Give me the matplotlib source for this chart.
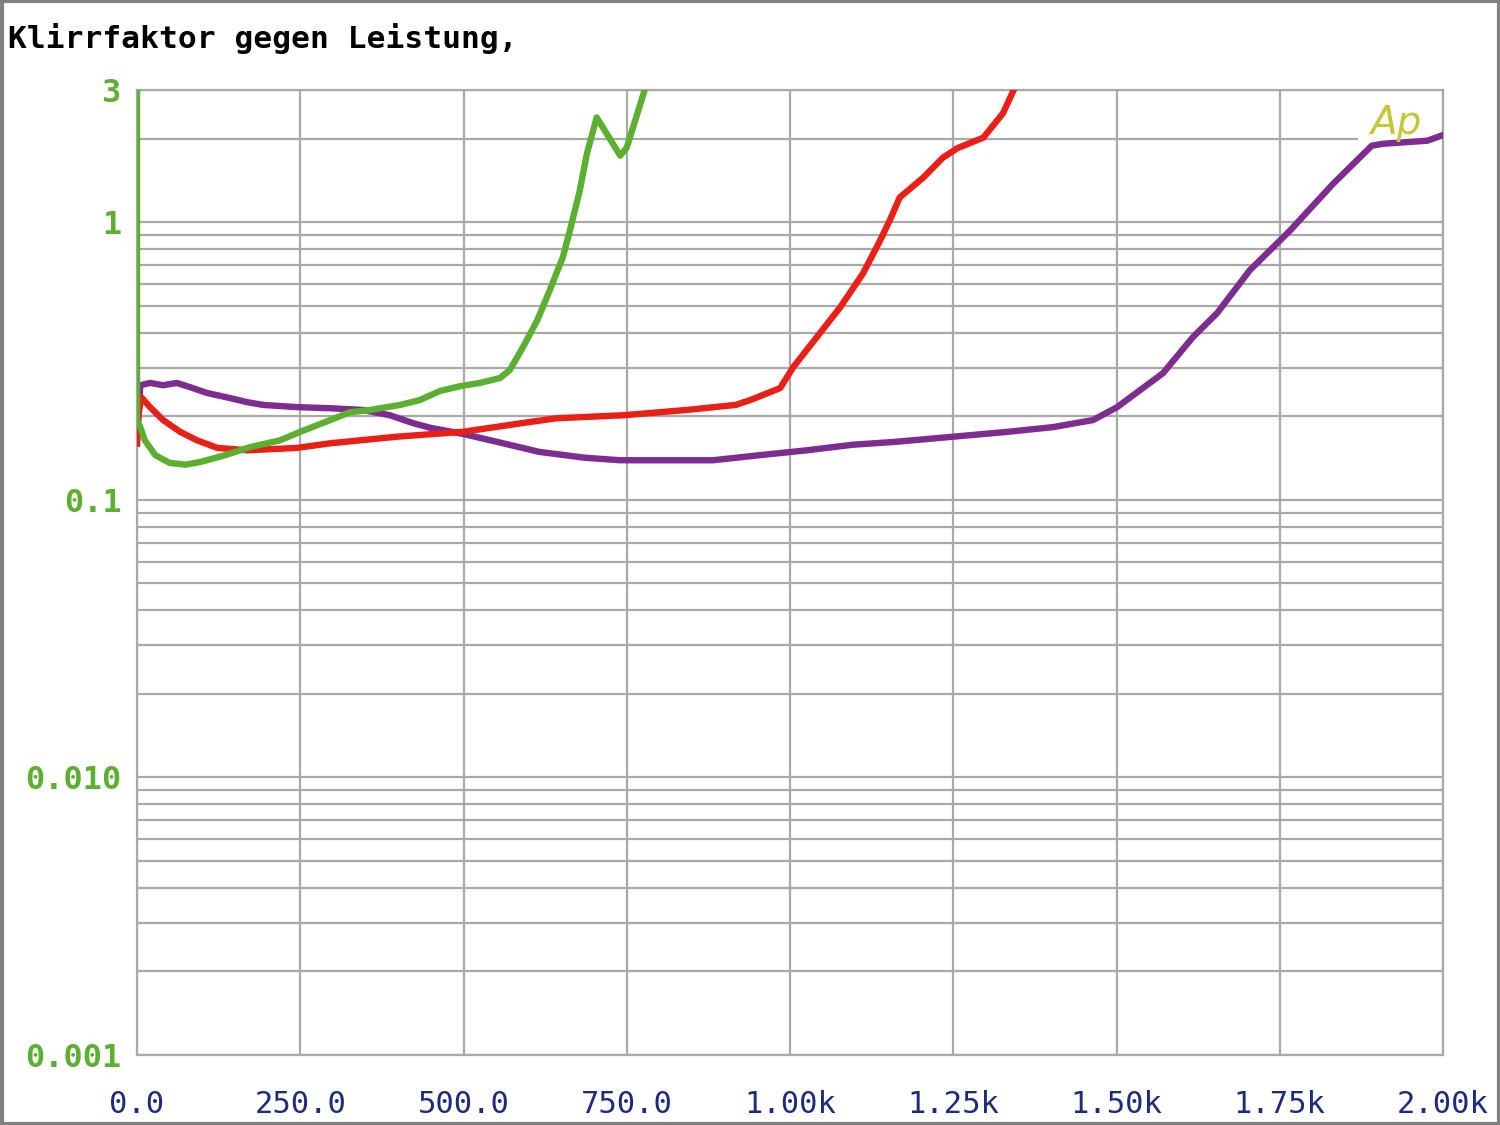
import numpy as np
import matplotlib
matplotlib.use("Agg")
import matplotlib.pyplot as plt
from matplotlib.patches import Rectangle

# power (W) vs THD (%)
x_green = [0, 0, 5, 12, 28, 50, 74, 97, 135, 173, 219, 250, 296, 326, 357, 403, 433,
           464, 495, 525, 556, 571, 591, 613, 632, 652, 663, 678, 689, 704, 740, 750, 778]
y_green = [3.03, 0.194, 0.183, 0.164, 0.145, 0.136, 0.134, 0.137, 0.145, 0.155, 0.164,
           0.176, 0.194, 0.207, 0.211, 0.220, 0.229, 0.247, 0.257, 0.264, 0.275, 0.294,
           0.355, 0.444, 0.569, 0.748, 0.936, 1.30, 1.77, 2.39, 1.74, 1.86, 3.03]

x_red = [0, 0, 6, 20, 40, 66, 92, 123, 169, 245, 296, 398, 499, 602, 643, 746, 842,
         917, 939, 985, 1005, 1041, 1077, 1112, 1138, 1153, 1168, 1204, 1234, 1256,
         1296, 1326, 1342]
y_red = [0.160, 0.182, 0.235, 0.216, 0.194, 0.176, 0.164, 0.154, 0.151, 0.154, 0.160,
         0.169, 0.176, 0.191, 0.197, 0.202, 0.211, 0.220, 0.229, 0.253, 0.301, 0.386,
         0.495, 0.656, 0.861, 1.02, 1.23, 1.45, 1.71, 1.85, 2.02, 2.47, 2.98]

x_purple = [0, 5, 20, 40, 61, 81, 107, 142, 169, 193, 245, 296, 346, 387, 423, 449,
            499, 551, 616, 685, 740, 882, 954, 1026, 1095, 1162, 1250, 1334, 1403, 1464,
            1501, 1571, 1617, 1654, 1704, 1766, 1832, 1891, 1908, 1976, 1999]
y_purple = [0.160, 0.259, 0.264, 0.259, 0.264, 0.255, 0.243, 0.233, 0.225, 0.220,
            0.216, 0.214, 0.211, 0.202, 0.189, 0.182, 0.173, 0.162, 0.149, 0.142,
            0.139, 0.139, 0.145, 0.151, 0.158, 0.162, 0.169, 0.176, 0.183, 0.194,
            0.216, 0.286, 0.386, 0.471, 0.672, 0.936, 1.38, 1.89, 1.92, 1.97, 2.06]

x_ticks = [0, 250, 500, 750, 1000, 1250, 1500, 1750, 2000]
x_labels = ["0.0", "250.0", "500.0", "750.0", "1.00k", "1.25k", "1.50k", "1.75k", "2.00k"]
y_ticks = [0.001, 0.01, 0.1, 1, 3]
y_labels = ["0.001", "0.010", "0.1", "1", "3"]

GRID = "#a9a9a9"
GREEN = "#5cb030"
RED = "#ea1f16"
PURPLE = "#7d2c8f"
NAVY = "#1c2a80"

fig = plt.figure(figsize=(15, 11.25), dpi=100)
ax = fig.add_axes([137 / 1500, 1 - 1055 / 1125, 1306 / 1500, 965 / 1125])
ax.set_yscale("log")
ax.set_xlim(0, 2000)
ax.set_ylim(0.001, 3)

# grid
for xv in x_ticks:
    ax.axvline(xv, color=GRID, lw=1.6, zorder=1)
for n in (-3, -2, -1, 0):
    for k in range(1, 10):
        v = k * 10.0 ** n
        if v > 3:
            break
        xmax = 0.934 if abs(v - 2) < 1e-9 else 1
        ax.axhline(v, xmax=xmax, color=GRID, lw=1.6, zorder=1)

for spine in ax.spines.values():
    spine.set_color(GRID)
    spine.set_linewidth(1.6)

ax.plot(x_purple, y_purple, color=PURPLE, lw=4.6, zorder=3)
ax.plot(x_red, y_red, color=RED, lw=4.6, zorder=4)
ax.plot(x_green, y_green, color=GREEN, lw=4.6, zorder=5)

ax.set_xticks(x_ticks)
ax.set_xticklabels(x_labels, family="DejaVu Sans Mono", fontsize=22, color=NAVY)
ax.set_yticks(y_ticks)
ax.set_yticklabels(y_labels, family="DejaVu Sans Mono", fontsize=23,
                   fontweight="bold", color=GREEN)
ax.yaxis.set_minor_locator(matplotlib.ticker.NullLocator())
ax.tick_params(axis="x", length=0, pad=25)
ax.tick_params(axis="y", length=0, pad=11)

ax.text(1888, 2.08, "Ap", color="#c9c53a", fontsize=28, style="italic",
        family="DejaVu Sans", fontweight="light", va="baseline", zorder=6)

fig.text(8 / 1500, 1 - 38 / 1125, "Klirrfaktor gegen Leistung,", family="DejaVu Sans Mono",
         fontsize=22.5, fontweight="bold", va="center", ha="left", color="black")

fig.patches.append(Rectangle((0.001, 0.001), 0.998, 0.998, transform=fig.transFigure,
                             fill=False, edgecolor="#808080", lw=3))

fig.savefig("out.png", dpi=100)
